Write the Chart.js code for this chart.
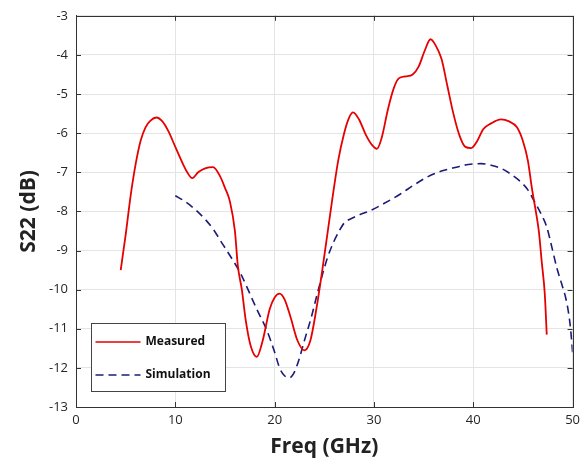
<!DOCTYPE html>
<html>
<head>
<meta charset="utf-8">
<script src="https://cdn.jsdelivr.net/npm/chart.js@4.4.1/dist/chart.umd.min.js"></script>
<style>
html,body{margin:0;padding:0;background:#fff;}
#c{display:block;}
</style>
</head>
<body>
<canvas id="c" width="585" height="463"></canvas>
<script>
// ---- data ----
const measuredFreq = [4.5,5.0,5.5,6.0,6.5,7.0,7.5,8.1,8.7,9.3,10.0,10.7,11.2,11.7,12.3,13.0,13.8,14.5,15.0,15.5,16.0,16.3,16.7,17.1,17.6,18.2,18.8,19.5,20.0,20.5,21.0,21.6,22.3,23.0,23.6,24.2,24.8,25.3,25.8,26.4,27.0,27.5,27.9,28.5,29.2,29.8,30.3,30.8,31.4,32.0,32.5,33.2,33.9,34.5,35.1,35.7,36.2,36.8,37.4,38.0,38.6,39.2,39.8,40.4,41.0,41.8,42.8,43.6,44.4,45.0,45.5,45.9,46.3,46.6,46.9,47.2,47.4];
const measuredS22 = [-9.5,-8.6,-7.6,-6.8,-6.2,-5.85,-5.68,-5.6,-5.7,-5.95,-6.35,-6.75,-7.0,-7.15,-7.0,-6.9,-6.87,-7.1,-7.4,-7.75,-8.5,-9.4,-10.0,-10.8,-11.45,-11.72,-11.3,-10.5,-10.2,-10.1,-10.25,-10.7,-11.3,-11.55,-11.3,-10.5,-9.5,-8.6,-7.7,-6.7,-6.0,-5.6,-5.47,-5.65,-6.05,-6.3,-6.4,-6.1,-5.4,-4.85,-4.6,-4.55,-4.5,-4.3,-3.9,-3.6,-3.75,-4.1,-4.8,-5.5,-6.05,-6.35,-6.38,-6.2,-5.9,-5.75,-5.65,-5.7,-5.85,-6.2,-6.7,-7.4,-8.0,-8.5,-9.3,-10.1,-11.15];
const simFreq = [10.0,11.0,12.0,13.0,13.8,14.8,15.8,16.6,17.2,18.2,19.2,20.0,20.5,21.0,21.5,22.0,22.5,23.0,23.7,24.3,25.3,26.0,26.5,27.0,28.0,29.7,31.0,32.7,34.0,35.3,36.8,38.3,39.5,40.8,41.8,42.8,43.8,44.8,45.5,46.1,46.8,47.4,47.9,48.4,48.9,49.3,49.6,49.8,50.0];
const simS22 = [-7.6,-7.75,-7.95,-8.2,-8.45,-8.85,-9.25,-9.6,-9.93,-10.5,-11.03,-11.6,-12.0,-12.2,-12.25,-12.1,-11.75,-11.3,-10.7,-10.1,-9.2,-8.75,-8.5,-8.3,-8.15,-7.97,-7.8,-7.55,-7.33,-7.13,-6.97,-6.87,-6.8,-6.78,-6.82,-6.9,-7.05,-7.25,-7.45,-7.72,-8.05,-8.4,-8.9,-9.43,-9.85,-10.2,-10.6,-11.0,-11.6];
const seriesNames = ['Measured','Simulation'];
const xAxisTitle = 'Freq (GHz)';
const yAxisTitle = 'S22 (dB)';
const xRange = [0, 50], xStep = 10;
const yRange = [-13, -3], yStep = 1;

const toPts = (xs, ys) => xs.map((x, i) => ({x: x, y: ys[i]}));

const FONT = "'Open Sans', 'DejaVu Sans', sans-serif";
const AXIS = '#333333';
const RED = '#e60000';
const NAVY = '#1c1c78';

// box, inward ticks, and inset legend
const framePlugin = {
  id: 'frame',
  afterDraw(chart) {
    const ctx = chart.ctx, a = chart.chartArea;
    const xs = chart.scales.x, ys = chart.scales.y;
    ctx.save();
    ctx.strokeStyle = AXIS;
    ctx.lineWidth = 1;
    ctx.beginPath();
    for (let v = xRange[0]; v <= xRange[1]; v += xStep) {
      const px = Math.round(xs.getPixelForValue(v)) + 0.5;
      ctx.moveTo(px, a.bottom); ctx.lineTo(px, a.bottom - 5);
      ctx.moveTo(px, a.top); ctx.lineTo(px, a.top + 5);
    }
    for (let v = yRange[0]; v <= yRange[1]; v += yStep) {
      const py = Math.round(ys.getPixelForValue(v)) + 0.5;
      ctx.moveTo(a.left, py); ctx.lineTo(a.left + 5, py);
      ctx.moveTo(a.right, py); ctx.lineTo(a.right - 5, py);
    }
    ctx.stroke();
    ctx.strokeRect(Math.round(a.left) + 0.5, Math.round(a.top) + 0.5,
                   Math.round(a.right - a.left), Math.round(a.bottom - a.top));
    // legend
    const bx = Math.round(a.left) + 15.5, by = Math.round(a.bottom) - 84 + 0.5;
    const bw = 134, bh = 68;
    ctx.fillStyle = '#ffffff';
    ctx.fillRect(bx, by, bw, bh);
    ctx.strokeStyle = '#444';
    ctx.strokeRect(bx, by, bw, bh);
    const rows = [by + 18, by + 51];
    const colors = [RED, NAVY];
    chart.data.datasets.forEach((ds, i) => {
      const y = Math.round(rows[i]);
      ctx.beginPath();
      ctx.strokeStyle = colors[i];
      ctx.lineWidth = i === 0 ? 1.3 : 1.6;
      ctx.setLineDash(ds.borderDash || []);
      ctx.moveTo(bx + 4, y); ctx.lineTo(bx + 49, y);
      ctx.stroke();
      ctx.setLineDash([]);
      ctx.fillStyle = '#111';
      ctx.font = "bold 12px " + FONT;
      ctx.textAlign = 'left';
      ctx.textBaseline = 'middle';
      ctx.fillText(ds.label, bx + 54, y);
    });
    ctx.restore();
  }
};

new Chart(document.getElementById('c'), {
  type: 'line',
  data: {
    datasets: [
      {
        label: seriesNames[0],
        data: toPts(measuredFreq, measuredS22),
        borderColor: RED,
        borderWidth: 1.8,
        pointRadius: 0,
        cubicInterpolationMode: 'monotone',
        fill: false
      },
      {
        label: seriesNames[1],
        data: toPts(simFreq, simS22),
        borderColor: NAVY,
        borderWidth: 1.6,
        borderDash: [8, 5],
        pointRadius: 0,
        cubicInterpolationMode: 'monotone',
        fill: false
      }
    ]
  },
  options: {
    responsive: false,
    animation: false,
    layout: { padding: { left: 0, right: 11, top: 15, bottom: 0 } },
    plugins: { legend: { display: false }, tooltip: { enabled: false } },
    scales: {
      x: {
        type: 'linear',
        min: xRange[0], max: xRange[1],
        ticks: { stepSize: xStep, color: '#262626', font: { family: FONT, size: 13 }, padding: 5, maxRotation: 0 },
        grid: { color: '#e4e4e4', drawTicks: false },
        border: { color: AXIS },
        title: { display: true, text: xAxisTitle, color: '#222', font: { family: FONT, size: 21, weight: 'bold' }, padding: { top: 0, bottom: 3 } },
        afterFit(s) { s.height = 56; }
      },
      y: {
        type: 'linear',
        min: yRange[0], max: yRange[1],
        ticks: { stepSize: yStep, color: '#262626', font: { family: FONT, size: 13 }, padding: 8 },
        grid: { color: '#e4e4e4', drawTicks: false },
        border: { color: AXIS },
        title: { display: true, text: yAxisTitle, color: '#222', font: { family: FONT, size: 21, weight: 'bold' }, padding: { top: 16, bottom: 0 } },
        afterFit(s) { s.width = 76; }
      }
    }
  },
  plugins: [framePlugin]
});
</script>
</body>
</html>
